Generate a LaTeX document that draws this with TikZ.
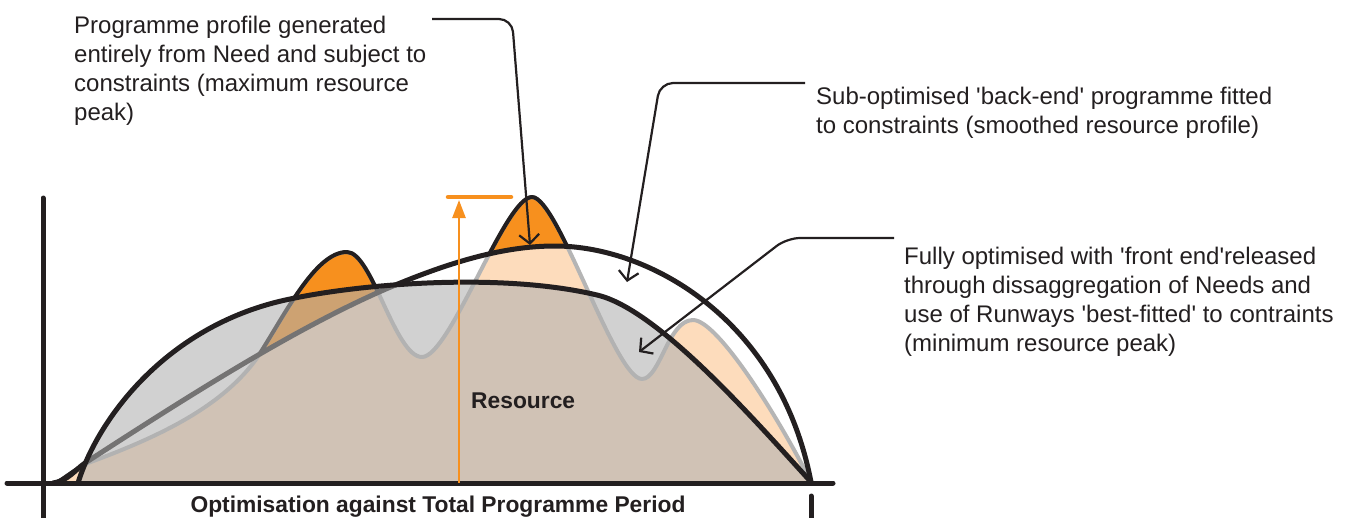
\documentclass[tikz,border=0pt]{standalone}
\usepackage{fontspec}
\setmainfont{Liberation Sans}
\usetikzlibrary{arrows.meta}
\definecolor{needorange}{HTML}{F7901E}
\definecolor{needlight}{HTML}{FDDCBC}
\definecolor{needgray}{HTML}{B5B5B5}
\definecolor{inkdark}{HTML}{231F20}
\newcommand\sq{\textquotesingle}
\def\needcurve{(56,483) .. controls (68,476) and (78,467) .. (88,463) .. controls (150,440) and (220,410) .. (257,358) .. controls (285,315) and (315,252) .. (347,252) .. controls (372,252) and (395,357) .. (422,357) .. controls (450,357) and (505,197) .. (532,197) .. controls (558,197) and (615,379) .. (642,379) .. controls (660,379) and (668,320) .. (693,320) .. controls (718,320) and (780,420) .. (811,482)}
\def\backcurve{(53,483) .. controls (68,481) and (76,469) .. (85,463) .. controls (190,395) and (300,325) .. (393,286) .. controls (460,258) and (510,246) .. (555,246) .. controls (650,246) and (780,320) .. (811,482)}
\def\frontcurve{(78,483) .. controls (98,418) and (168,324) .. (290,299) .. controls (360,284) and (500,272) .. (597,295) .. controls (657,309) and (751,416) .. (811,482)}
\begin{document}
\begin{tikzpicture}[x=1pt,y=-1pt,
    curve/.style={line width=5pt,draw=inkdark,line join=round,line cap=round},
    needline/.style={line width=4pt,draw=needgray,line join=round},
    axisline/.style={line width=5pt,draw=inkdark,line cap=round},
    leader/.style={line width=2.2pt,draw=inkdark,rounded corners=13pt,-{Straight Barb[length=9pt,width=20pt]}},
    note/.style={inner sep=0pt,anchor=base west,align=left,text=inkdark,font=\fontsize{24}{28.7}\selectfont},
    boldlabel/.style={inner sep=0pt,text=inkdark,font=\fontsize{22.8}{27}\selectfont\bfseries}]
  \useasboundingbox (0,0) rectangle (1362,517);
  % need profile, peaks above the smoothed profile in full orange
  \fill[needlight] \needcurve -- cycle;
  \begin{scope}
    \clip \needcurve -- cycle;
    \fill[needorange,even odd rule] (0,0) rectangle (1362,517) \backcurve -- cycle;
  \end{scope}
  \draw[needline] \needcurve;
  \begin{scope}[even odd rule]
    \clip (0,0) rectangle (1362,517) \backcurve -- cycle;
    \draw[needline,draw=inkdark] \needcurve;
  \end{scope}
  % smoothed and optimised profiles
  \draw[curve] \backcurve;
  \fill[black!31,fill opacity=0.58] \frontcurve -- cycle;
  \draw[curve] \frontcurve;
  % axes
  \coordinate (ytop) at (43,198);
  \coordinate (ybot) at (43,522);
  \coordinate (xleft) at (7,483);
  \coordinate (xright) at (833,483);
  \coordinate (tickA) at (811,496);
  \coordinate (tickB) at (811,522);
  \draw[axisline] (ytop) -- (ybot);
  \draw[axisline] (xleft) -- (xright);
  \draw[axisline] (tickA) -- (tickB);
  \node[boldlabel,anchor=base] (period) at (438,512) {Optimisation against Total Programme Period};
  % resource arrow
  \coordinate (resfoot) at (459,483);
  \coordinate (restop) at (459,200);
  \coordinate (capL) at (448,197);
  \coordinate (capR) at (511,197);
  \draw[line width=2.5pt,draw=needorange,-{Triangle[length=18pt,width=13pt]}] (resfoot) -- (restop);
  \draw[line width=4.5pt,draw=needorange,line cap=round] (capL) -- (capR);
  \node[boldlabel,anchor=base west] (resource) at (471,408) {Resource};
  % notes (anchored on the baseline of their last line)
  \node[note] (needtext) at (74,120) {Programme profile generated\\entirely from Need and subject to\\constraints (maximum resource\\peak)};
  \node[note] (backtext) at (816,133) {Sub-optimised \sq back-end\sq\ programme fitted\\to constraints (smoothed resource profile)};
  \node[note] (fronttext) at (904,351) {Fully optimised with \sq front end\sq released\\through dissaggregation of Needs and\\use of Runways \sq best-fitted\sq\ to contraints\\(minimum resource peak)};
  \coordinate (needlead) at (432,19);
  \coordinate (needbend) at (512,19);
  \coordinate (needtip) at (530,245);
  \coordinate (backlead) at (805,83);
  \coordinate (backbend) at (660,83);
  \coordinate (backtip) at (627,282);
  \coordinate (frontlead) at (894,238);
  \coordinate (frontbend) at (787,238);
  \coordinate (fronttip) at (639,352);
  \draw[leader] (needlead) -- (needbend) -- (needtip);
  \draw[leader] (backlead) -- (backbend) -- (backtip);
  \draw[leader] (frontlead) -- (frontbend) -- (fronttip);
\end{tikzpicture}
\end{document}
